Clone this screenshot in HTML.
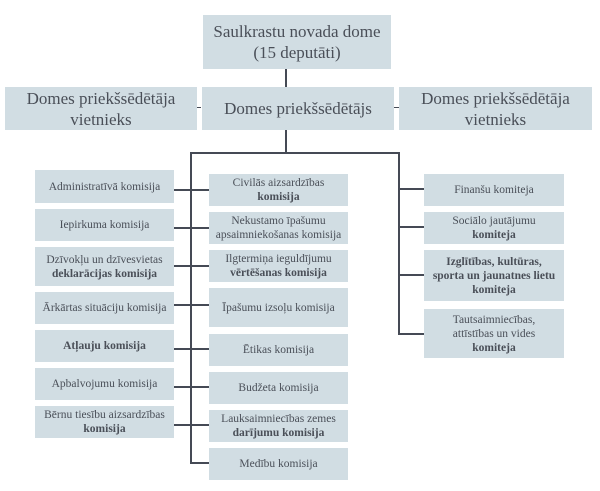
<!DOCTYPE html>
<html><head><meta charset="utf-8"><style>
body{margin:0;width:600px;height:491px;background:#fff;position:relative;overflow:hidden;font-family:"Liberation Serif",serif;}
.b{position:absolute;background:#d1dde3;color:#4a4f58;display:flex;align-items:center;justify-content:center;text-align:center;font-size:11.5px;line-height:14px;box-sizing:border-box;}
.b>span{display:block;}
.big{font-size:17px;line-height:21px;}
.l{position:absolute;background:#454a55;}
b{font-weight:bold;}
</style></head><body>
<div class="b big" style="left:203px;top:15px;width:188px;height:54px"><span>Saulkrastu novada dome<br>(15 deputāti)</span></div>
<div class="b big" style="left:5px;top:87px;width:192px;height:43px"><span>Domes priekšsēdētāja<br>vietnieks</span></div>
<div class="b big" style="left:202px;top:87px;width:192px;height:43px"><span>Domes priekšsēdētājs</span></div>
<div class="b big" style="left:399px;top:87px;width:193px;height:43px"><span>Domes priekšsēdētāja<br>vietnieks</span></div>
<div class="l" style="left:285px;top:69px;width:2px;height:18px"></div>
<div class="l" style="left:285px;top:130px;width:2px;height:23px"></div>
<div class="l" style="left:197px;top:107px;width:4px;height:1px"></div>
<div class="l" style="left:394px;top:107px;width:5px;height:1px"></div>
<div class="l" style="left:191px;top:152px;width:209px;height:2px"></div>
<div class="l" style="left:190px;top:152px;width:2px;height:312px"></div>
<div class="l" style="left:398px;top:152px;width:2px;height:183px"></div>

<div class="b" style="left:35px;top:170px;width:139px;height:33px"><span>Administratīvā komisija</span></div>
<div class="b" style="left:35px;top:209px;width:139px;height:32px"><span>Iepirkuma komisija</span></div>
<div class="b" style="left:35px;top:247px;width:139px;height:39px"><span>Dzīvokļu un dzīvesvietas<br><b>deklarācijas komisija</b></span></div>
<div class="b" style="left:35px;top:292px;width:139px;height:32px"><span>Ārkārtas situāciju komisija</span></div>
<div class="b" style="left:35px;top:330px;width:139px;height:32px"><span><b>Atļauju komisija</b></span></div>
<div class="b" style="left:35px;top:368px;width:139px;height:32px"><span>Apbalvojumu komisija</span></div>
<div class="b" style="left:35px;top:406px;width:139px;height:32px;align-items:flex-start;padding-top:2px"><span>Bērnu tiesību aizsardzības<br><b>komisija</b></span></div>

<div class="b" style="left:209px;top:174px;width:139px;height:32px"><span>Civilās aizsardzības<br><b>komisija</b></span></div>
<div class="b" style="left:209px;top:212px;width:139px;height:32px"><span>Nekustamo īpašumu<br>apsaimniekošanas komisija</span></div>
<div class="b" style="left:209px;top:250px;width:139px;height:32px"><span>Ilgtermiņa ieguldījumu<br><b>vērtēšanas komisija</b></span></div>
<div class="b" style="left:209px;top:288px;width:139px;height:39px"><span>Īpašumu izsoļu komisija</span></div>
<div class="b" style="left:209px;top:334px;width:139px;height:32px"><span>Ētikas komisija</span></div>
<div class="b" style="left:209px;top:372px;width:139px;height:32px"><span>Budžeta komisija</span></div>
<div class="b" style="left:209px;top:410px;width:139px;height:32px"><span>Lauksaimniecības zemes<br><b>darījumu komisija</b></span></div>
<div class="b" style="left:209px;top:448px;width:139px;height:32px"><span>Medību komisija</span></div>

<div class="l" style="left:174px;top:189px;width:35px;height:2px"></div>
<div class="l" style="left:174px;top:227px;width:35px;height:2px"></div>
<div class="l" style="left:174px;top:265px;width:35px;height:2px"></div>
<div class="l" style="left:174px;top:304px;width:35px;height:2px"></div>
<div class="l" style="left:174px;top:348px;width:35px;height:2px"></div>
<div class="l" style="left:174px;top:386px;width:35px;height:2px"></div>
<div class="l" style="left:174px;top:424px;width:35px;height:2px"></div>
<div class="l" style="left:191px;top:462px;width:18px;height:2px"></div>

<div class="b" style="left:424px;top:174px;width:140px;height:32px"><span>Finanšu komiteja</span></div>
<div class="b" style="left:424px;top:212px;width:140px;height:32px"><span>Sociālo jautājumu<br><b>komiteja</b></span></div>
<div class="b" style="left:424px;top:250px;width:140px;height:51px"><span><b>Izglītības, kultūras,<br>sporta un jaunatnes lietu<br>komiteja</b></span></div>
<div class="b" style="left:424px;top:309px;width:140px;height:49px"><span>Tautsaimniecības,<br>attīstības un vides<br><b>komiteja</b></span></div>
<div class="l" style="left:399px;top:188px;width:25px;height:2px"></div>
<div class="l" style="left:399px;top:226px;width:25px;height:2px"></div>
<div class="l" style="left:399px;top:274px;width:25px;height:2px"></div>
<div class="l" style="left:399px;top:333px;width:25px;height:2px"></div>
</body></html>
